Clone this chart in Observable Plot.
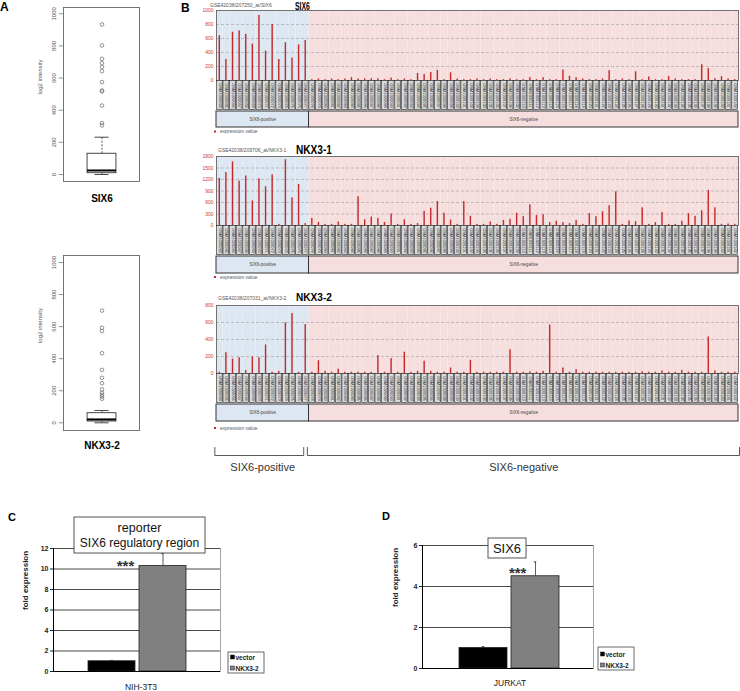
<!DOCTYPE html>
<html><head><meta charset="utf-8">
<script src="https://cdn.jsdelivr.net/npm/d3@7"></script>
<script src="https://cdn.jsdelivr.net/npm/@observablehq/plot@0.6"></script>
<style>
body{margin:0;background:#fff;}
#fig{position:relative;width:740px;height:691px;overflow:hidden;background:#fff;font-family:'Liberation Sans',Arial,sans-serif;}
</style></head><body><div id="fig"></div>
<script>
// ---------------- DATA ----------------
// Panel A: boxplot summaries and outliers
const boxTicks = [0, 200, 400, 600, 800, 1000];
const six6Box = {lo: 0, q1: 8, median: 25, q3: 129, hi: 232};
const six6Outliers = [305, 320, 429, 517, 523, 575, 643, 668, 693, 720, 803, 934];
const nkx32Box = {lo: 0, q1: 8, median: 21, q3: 60, hi: 77};
const nkx32Outliers = [150, 164, 175, 187, 208, 247, 281, 330, 434, 572, 593, 700];

// Panel B: samples (14 SIX6-positive, 65 SIX6-negative)
const sampleIds = [
"GSM1020064","GSM1020065","GSM1020066","GSM1020067","GSM1020068","GSM1020069","GSM1020070","GSM1020071","GSM1020072","GSM1020073",
"GSM1020074","GSM1020075","GSM1020076","GSM1020077","GSM1020078","GSM1020079","GSM1020080","GSM1020081","GSM1020082","GSM1020083",
"GSM1020084","GSM1020085","GSM1020086","GSM1020087","GSM1020088","GSM1020089","GSM1020090","GSM1020091","GSM1020092","GSM1020093",
"GSM1020094","GSM1020095","GSM1020096","GSM1020097","GSM1020098","GSM1020099","GSM1020100","GSM1020101","GSM1020102","GSM1020103",
"GSM1020104","GSM1020105","GSM1020106","GSM1020107","GSM1020108","GSM1020109","GSM1020110","GSM1020111","GSM1020112","GSM1020113",
"GSM1020114","GSM1020115","GSM1020116","GSM1020117","GSM1020118","GSM1020119","GSM1020120","GSM1020121","GSM1020122","GSM1020123",
"GSM1020124","GSM1020125","GSM1020126","GSM1020127","GSM1020128","GSM1020129","GSM1020130","GSM1020131","GSM1020132","GSM1020133",
"GSM1020134","GSM1020135","GSM1020136","GSM1020137","GSM1020138","GSM1020139","GSM1020140","GSM1020141","GSM1020142"];
const nPositive = 14;
const groupLabels = ["SIX6-positive", "SIX6-negative"];

const six6Values = [640,300,690,710,660,520,930,420,800,300,540,320,510,570,
 12,22,12,22,12,22,40,22,22,25,22,12,35,12,22,12,100,85,115,145,12,110,22,12,12,22,
 12,22,12,12,22,12,12,40,12,40,12,12,150,60,40,22,12,12,22,140,12,22,12,125,12,50,
 12,12,55,22,12,12,12,225,170,25,55,22,12];
const six6Ticks = [0,200,400,600,800,1000];

const nkx31Values = [1230,1380,1660,1160,1290,640,1220,1010,1320,30,1715,720,1070,50,
 185,80,30,30,90,30,30,750,150,220,185,80,300,30,150,30,50,370,450,625,320,140,30,625,240,30,
 30,90,30,130,160,320,230,540,260,280,75,110,75,50,130,30,310,230,360,515,880,30,120,100,460,30,
 75,335,30,30,110,310,240,385,915,460,30,40,30];
const nkx31Ticks = [0,300,600,900,1200,1500,1800];

const nkx32Values = [15,245,170,185,35,195,185,335,15,25,595,705,15,575,
 15,150,25,15,50,15,15,15,15,15,210,15,175,15,250,15,25,145,25,15,15,65,15,15,155,15,
 15,15,15,15,280,15,15,20,15,25,570,15,65,15,45,15,15,15,15,15,15,15,15,15,20,15,
 15,30,15,15,35,15,15,15,430,30,15,15,15];
const nkx32Ticks = [0,200,400,600,800];

// Panels C and D
const conditions = ["vector", "NKX3-2"];
const nih3t3Fold = [1.0, 10.3];
const nih3t3Err = [0.08, 1.2];
const nih3t3Ticks = [0,2,4,6,8,10,12];
const jurkatFold = [1.0, 4.5];
const jurkatErr = [0.07, 0.7];
const jurkatTicks = [0,2,4,6];

// ---------------- RENDER ----------------
const FONT = "'Liberation Sans', Arial, sans-serif";
const baseStyle = {background: "transparent", overflow: "visible", fontFamily: FONT};
const fig = document.getElementById("fig");
function place(node, left, top) {
  Object.assign(node.style, {position: "absolute", left: left + "px", top: top + "px"});
  fig.appendChild(node);
}
const posBg = "#dde7f2", negBg = "#f6dede";

// ---- Panel A boxplots
function boxPanel(stat, outl, o) {
  const cx = 0.5066, bw = 0.19, cw = 0.092;
  return Plot.plot({
    width: 150, height: o.height, marginLeft: 63, marginRight: 11, marginTop: o.mt, marginBottom: 4,
    style: baseStyle,
    x: {domain: [0, 1], axis: null},
    y: {domain: o.ydom, axis: null},
    marks: [
      Plot.ruleX([stat], {x: () => cx, y1: "q3", y2: "hi", stroke: "#333", strokeWidth: 0.8, strokeDasharray: "2,1.5"}),
      Plot.ruleX([stat], {x: () => cx, y1: "lo", y2: "q1", stroke: "#333", strokeWidth: 0.8, strokeDasharray: "2,1.5"}),
      Plot.ruleY([stat], {y: "hi", x1: () => cx - cw, x2: () => cx + cw, stroke: "#333", strokeWidth: 0.9}),
      Plot.ruleY([stat], {y: "lo", x1: () => cx - cw, x2: () => cx + cw, stroke: "#333", strokeWidth: 0.9}),
      Plot.rect([stat], {x1: () => cx - bw, x2: () => cx + bw, y1: "q1", y2: "q3", fill: "white", stroke: "#333", strokeWidth: 0.9}),
      Plot.ruleY([stat], {y: "median", x1: () => cx - bw, x2: () => cx + bw, stroke: "#000", strokeWidth: 2}),
      Plot.dot(outl, {x: () => cx, y: d => d, r: 1.8, stroke: "#777", strokeWidth: 0.8, fill: "none"}),
      Plot.ruleY(boxTicks, {x1: () => -0.055, x2: () => 0, stroke: "#666", strokeWidth: 0.7}),
      Plot.text(boxTicks, {x: () => -0.13, y: d => d, text: d => String(d), rotate: -90, fontSize: 6, fill: "#555"}),
      Plot.text(["log2 intensity"], {frameAnchor: "left", dx: -23, text: d => d, rotate: -90, fontSize: 6, fill: "#555"}),
      Plot.frame({stroke: "#666", strokeWidth: 0.9})
    ]
  });
}
place(boxPanel(six6Box, six6Outliers, {height: 185, mt: 7, ydom: [-43.6, 1039.2]}), 0, 0);
place(boxPanel(nkx32Box, nkx32Outliers, {height: 194, mt: 15, ydom: [-48, 1043.7]}), 0, 240);

// ---- Panel B expression charts
const rowsFor = values => sampleIds.map((id, i) => ({id, i, group: i < nPositive ? "pos" : "neg", value: values[i]}));
const groups = [
  {label: groupLabels[0], g: "pos", start: 0, end: nPositive - 1},
  {label: groupLabels[1], g: "neg", start: nPositive, end: sampleIds.length - 1}
];
const colorOpt = {domain: ["pos", "neg"], range: [posBg, negBg]};

function exprPanel(values, o) {
  const rows = rowsFor(values);
  const main = Plot.plot({
    width: 560, height: o.h, marginLeft: 36, marginRight: 2, marginTop: 10, marginBottom: 3,
    style: baseStyle,
    x: {type: "band", domain: sampleIds, padding: 0, axis: null},
    y: {domain: [0, o.ymax], axis: null},
    color: colorOpt,
    marks: [
      Plot.barY(rows, {x: "id", y1: () => 0, y2: () => o.ymax, fill: "group"}),
      Plot.ruleY(o.ticks.filter(t => t > 0 && t < o.ymax), {stroke: "#a8a8a8", strokeWidth: 0.7, strokeDasharray: "3,2"}),
      Plot.barY(rows, {x: "id", y: "value", fill: "#c62828", insetLeft: 2.6, insetRight: 2.6}),
      Plot.frame({stroke: "#666", strokeWidth: 0.9}),
      Plot.axisY(o.ticks, {tickSize: 0, tickPadding: 3, fontSize: 5, color: "#cc3333", label: null, tickFormat: d => String(d)})
    ]
  });
  place(main, 180, o.top);
  const labels = Plot.plot({
    width: 560, height: 30, marginLeft: 36, marginRight: 2, marginTop: 0, marginBottom: 0,
    style: baseStyle,
    x: {type: "band", domain: sampleIds, padding: 0, axis: null},
    y: {domain: [0, 1], axis: null},
    marks: [
      Plot.barY(rows, {x: "id", y1: () => 0, y2: () => 1, fill: "#dadada", stroke: "#222", strokeWidth: 0.6,
        insetLeft: 0.4, insetRight: 0.4, insetTop: 0.4, insetBottom: 0.4}),
      Plot.text(rows, {x: "id", y: () => 0.5, text: "id", rotate: 90, fontSize: 4, fill: "#222"})
    ]
  });
  place(labels, 180, o.ltop);
  const grp = Plot.plot({
    width: 560, height: o.gh, marginLeft: 36, marginRight: 2, marginTop: 0, marginBottom: 0,
    style: baseStyle,
    x: {domain: [-0.5, sampleIds.length - 0.5], axis: null},
    y: {domain: [0, 1], axis: null},
    color: colorOpt,
    marks: [
      Plot.rect(groups, {x1: d => d.start - 0.5, x2: d => d.end + 0.5, y1: () => 0, y2: () => 1, fill: "g", stroke: "#333", strokeWidth: 1}),
      Plot.text(groups, {x: d => (d.start + d.end) / 2, y: () => 0.5, text: "label", fontSize: 4.5, fill: "#444"})
    ]
  });
  place(grp, 180, o.gtop);
}
exprPanel(six6Values, {ymax: 1000, ticks: six6Ticks, top: 0, h: 83, ltop: 80, gtop: 111, gh: 16});
exprPanel(nkx31Values, {ymax: 1800, ticks: nkx31Ticks, top: 146, h: 82, ltop: 225, gtop: 256, gh: 17});
exprPanel(nkx32Values, {ymax: 800, ticks: nkx32Ticks, top: 295, h: 81, ltop: 373, gtop: 404, gh: 17});

// brackets under panel B
const bracketPts = groups.flatMap((d, k) => {
  const x1 = d.start - 0.75, x2 = d.end + 0.5 + (k < groups.length - 1 ? -0.8 : 0.15);
  return [{g: d.g, x: x1, y: 1}, {g: d.g, x: x1, y: 0}, {g: d.g, x: x2, y: 0}, {g: d.g, x: x2, y: 1}];
});
place(Plot.plot({
  width: 560, height: 8, marginLeft: 36, marginRight: 2, marginTop: 0, marginBottom: 0,
  style: baseStyle,
  x: {domain: [-0.5, sampleIds.length - 0.5], axis: null},
  y: {domain: [0, 1], axis: null},
  marks: [
    Plot.line(bracketPts, {x: "x", y: "y", z: "g", stroke: "#444", strokeWidth: 0.9}),
    Plot.text(groups, {x: d => (d.start + d.end) / 2, y: () => -1.5, text: "label", fontSize: 11, fill: "#333"})
  ]
}), 180, 447);

// ---- Panels C and D
function foldPanel(vals, errs, o) {
  const rows = conditions.map((c, i) => ({cond: c, value: vals[i], err: errs[i]}));
  const step = (o.xr[1] - o.xr[0]) / (2 - 0.08), bw = step * 0.92;
  return Plot.plot({
    width: 370, height: 191, marginLeft: o.ml, marginRight: o.mr, marginTop: o.mt, marginBottom: o.mb,
    style: baseStyle,
    x: {type: "band", domain: conditions, range: o.xr, paddingInner: 0.08, paddingOuter: 0, axis: null},
    y: {domain: [0, o.ymax], axis: null},
    color: {domain: conditions, range: ["#000000", "#808080"]},
    marks: [
      Plot.ruleY(o.ticks.filter(t => t > 0), {stroke: "#333", strokeWidth: 0.9}),
      Plot.frame({anchor: "right", stroke: "#999", strokeWidth: 0.9}),
      Plot.barY(rows, {x: "cond", y: "value", fill: "cond", stroke: "#222", strokeWidth: 0.8}),
      Plot.ruleX(rows, {x: "cond", y1: "value", y2: d => d.value + d.err, stroke: "#333", strokeWidth: 0.8}),
      Plot.tickY(rows, {x: "cond", y: d => d.value + d.err, stroke: "#333", strokeWidth: 0.8, insetLeft: bw / 2 - 1.5, insetRight: bw / 2 - 1.5}),
      Plot.text([rows[1]], {x: "cond", y: "value", text: () => "***", dx: o.sdx, dy: o.sdy, fontSize: 15, fontWeight: "bold", fill: "#333"}),
      Plot.ruleY([0], {stroke: "#000", strokeWidth: 1}),
      Plot.frame({anchor: "left", stroke: "#000", strokeWidth: 1}),
      Plot.axisY(o.ticks, {tickSize: 3, tickPadding: 2, fontSize: 7, fontWeight: "bold", color: "#222", label: null, tickFormat: d => String(d)}),
      Plot.text(["fold expression"], {frameAnchor: "left", dx: o.ldx, text: d => d, rotate: -90, fontSize: 8, fontWeight: "bold", fill: "#222"})
    ]
  });
}
place(foldPanel(nih3t3Fold, nih3t3Err, {ml: 53, mr: 150, mt: 48, mb: 20, xr: [88, 186], ymax: 12, ticks: nih3t3Ticks, sdx: -37.5, sdy: 0, ldx: -28}), 0, 500);
place(foldPanel(jurkatFold, jurkatErr, {ml: 52, mr: 147, mt: 45, mb: 23, xr: [88, 189], ymax: 6, ticks: jurkatTicks, sdx: -17.8, sdy: -3.5, ldx: -27}), 370, 500);

// ---- Overlay annotations (text, titles, legends)
const ov = d3.create("svg").attr("width", 740).attr("height", 691).attr("font-family", FONT)
  .style("position", "absolute").style("left", "0px").style("top", "0px").style("overflow", "visible");
function txt(x, y, s, o = {}) {
  const t = ov.append("text").attr("x", x).attr("y", y).text(s)
    .attr("font-size", o.size || 10).attr("fill", o.fill || "#000")
    .attr("text-anchor", o.anchor || "start");
  if (o.bold) t.attr("font-weight", "bold");
  if (o.sx) t.attr("transform", `translate(${x},${y}) scale(${o.sx},1) translate(${-x},${-y})`);
  return t;
}
// panel letters
txt(0, 11, "A", {size: 12, bold: true});
txt(181, 12, "B", {size: 12, bold: true});
txt(8, 521, "C", {size: 11, bold: true});
txt(382, 520, "D", {size: 11, bold: true});
// panel A gene labels
txt(102, 202, "SIX6", {size: 10, bold: true, anchor: "middle"});
txt(102, 449, "NKX3-2", {size: 10, bold: true, anchor: "middle"});
// panel B headers
txt(210, 7, "GSE42038/207250_at/SIX6", {size: 5, fill: "#555"});
txt(295, 9.5, "SIX6", {size: 11.5, bold: true, sx: 0.6});
txt(218, 152, "GSE42038/209706_at/NKX3-1", {size: 5, fill: "#555"});
txt(296, 154, "NKX3-1", {size: 12.5, bold: true, sx: 0.81});
txt(218, 300, "GSE42038/207031_at/NKX3-2", {size: 5, fill: "#555"});
txt(296, 301.5, "NKX3-2", {size: 11.5, bold: true, sx: 0.88});
// panel B legends
[131.5, 277, 428].forEach(y => {
  ov.append("rect").attr("x", 214).attr("y", y - 1).attr("width", 2).attr("height", 2).attr("fill", "#c62828");
  txt(220, y + 1.8, "expression value", {size: 5, fill: "#555"});
});
// panel C title box, legend, x label
ov.append("rect").attr("x", 74).attr("y", 517).attr("width", 131).attr("height", 36).attr("fill", "#fff").attr("stroke", "#555");
txt(139.5, 532, "reporter", {size: 12.5, anchor: "middle", fill: "#111"});
txt(139.5, 547, "SIX6 regulatory region", {size: 12, anchor: "middle", fill: "#111"});
function legend(x, y, h, y1, y2) {
  ov.append("rect").attr("x", x).attr("y", y).attr("width", 36).attr("height", h).attr("fill", "#fff").attr("stroke", "#444").attr("stroke-width", 0.8);
  ov.append("rect").attr("x", x + 2.5).attr("y", y1 - 2).attr("width", 4).attr("height", 4).attr("fill", "#000").attr("stroke", "#222").attr("stroke-width", 0.5);
  txt(x + 7.5, y1 + 2.5, conditions[0], {size: 6.5, bold: true, fill: "#222"});
  ov.append("rect").attr("x", x + 2.5).attr("y", y2 - 2).attr("width", 4).attr("height", 4).attr("fill", "#808080").attr("stroke", "#222").attr("stroke-width", 0.5);
  txt(x + 7.5, y2 + 2.5, conditions[1], {size: 6.5, bold: true, fill: "#222"});
}
legend(228, 652, 21, 657, 668);
txt(141, 690, "NIH-3T3", {size: 8.5, anchor: "middle", fill: "#222"});
// panel D title box, legend, x label
ov.append("rect").attr("x", 488).attr("y", 538).attr("width", 38).attr("height", 20).attr("fill", "#fff").attr("stroke", "#555");
txt(507, 552.7, "SIX6", {size: 13, anchor: "middle", fill: "#111"});
legend(598, 647, 23, 654, 665);
txt(510, 686, "JURKAT", {size: 8.5, anchor: "middle", fill: "#222"});
fig.appendChild(ov.node());
</script></body></html>
